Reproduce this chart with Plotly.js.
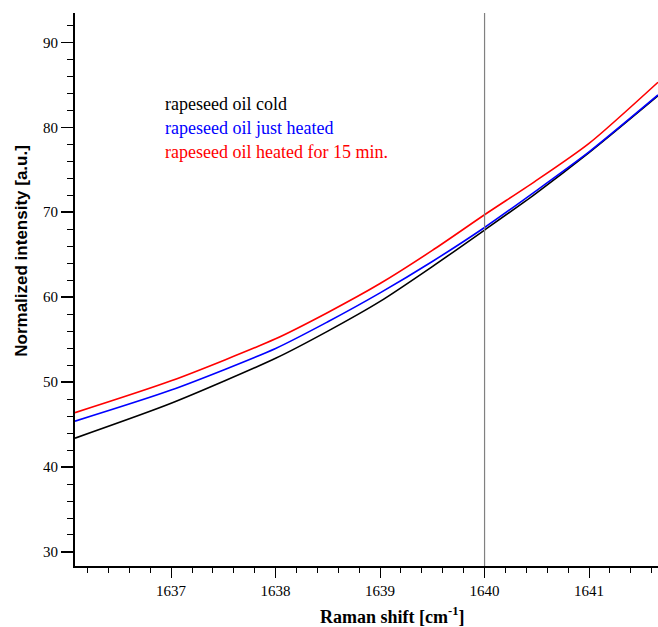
<!DOCTYPE html>
<html>
<head>
<meta charset="utf-8">
<script src="https://cdn.plot.ly/plotly-3.0.1.min.js"></script>
<style>html,body{margin:0;padding:0;background:#fff;}#chart{width:658px;height:627px;}</style>
</head>
<body>
<div id="chart"></div>
<script>
const ramanShift = [1636.08, 1637, 1638, 1638.5, 1639, 1639.5, 1640, 1640.48, 1641, 1641.66];
const coldIntensity = [43.4, 47.5, 52.8, 56.0, 59.5, 63.6, 67.9, 72.1, 77.0, 83.7];
const justHeatedIntensity = [45.4, 49.06, 53.96, 57.1, 60.5, 64.2, 68.2, 72.4, 77.1, 83.8];
const heated15Intensity = [46.4, 50.15, 55.1, 58.2, 61.6, 65.5, 69.7, 73.6, 78.1, 85.3];
const seriesNames = ["rapeseed oil cold", "rapeseed oil just heated", "rapeseed oil heated for 15 min."];
const seriesColors = ["#000000", "#0000ff", "#ff0000"];
const markerLine = 1640;
const xTitle = '<b>Raman shift [cm<sup>-1</sup>]</b>';
const yTitle = '<b>Normalized intensity [a.u.]</b>';

const seriesValues = [coldIntensity, justHeatedIntensity, heated15Intensity];
const traces = seriesValues.map((vals, i) => ({
  x: ramanShift, y: vals, type: 'scatter', mode: 'lines', name: seriesNames[i],
  line: {color: seriesColors[i], width: 1.6, shape: 'spline', smoothing: 0.7},
  showlegend: false, hoverinfo: 'skip'
}));

const serif = 'Liberation Serif, Times New Roman, serif';
const annotations = seriesNames.map((n, i) => ({
  xref: 'paper', yref: 'paper', x: 0.151, y: 0.835 - i * 0.043,
  xanchor: 'left', yanchor: 'middle', showarrow: false, text: n,
  font: {family: serif, size: 18, color: seriesColors[i]}
}));
annotations.push({
  xref: 'paper', yref: 'paper', x: 0.545, y: -0.089, xanchor: 'center', yanchor: 'middle',
  showarrow: false, text: xTitle, font: {family: serif, size: 18, color: '#000'}
});
annotations.push({
  xref: 'paper', yref: 'paper', x: -0.091, y: 0.57, xanchor: 'center', yanchor: 'middle',
  textangle: -90, showarrow: false, text: yTitle,
  font: {family: 'Liberation Sans, Arial, sans-serif', size: 17, color: '#000'}
});

const layout = {
  width: 658, height: 627,
  margin: {l: 75, r: 0, t: 13, b: 61},
  paper_bgcolor: '#fff', plot_bgcolor: '#fff',
  showlegend: false,
  xaxis: {
    range: [1636.08, 1641.66], dtick: 1, tick0: 1637,
    ticks: 'outside', ticklen: 10, tickwidth: 1, tickcolor: '#000',
    minor: {dtick: 0.2, ticks: 'outside', ticklen: 5, tickwidth: 1, tickcolor: '#000'},
    showline: true, linecolor: '#000', linewidth: 2, showgrid: false, zeroline: false,
    tickfont: {family: serif, size: 15, color: '#000'}
  },
  yaxis: {
    range: [28.35, 93.45], dtick: 10, tick0: 30,
    ticks: 'outside', ticklen: 12, tickwidth: 1.5, tickcolor: '#000',
    minor: {dtick: 2, ticks: 'outside', ticklen: 6, tickwidth: 1, tickcolor: '#000'},
    showline: true, linecolor: '#000', linewidth: 2, showgrid: false, zeroline: false,
    tickfont: {family: serif, size: 15, color: '#000'}
  },
  shapes: [{type: 'line', xref: 'x', yref: 'paper', x0: markerLine, x1: markerLine, y0: 0, y1: 1,
    line: {color: '#808080', width: 1.2}}],
  annotations: annotations
};

Plotly.newPlot('chart', traces, layout, {displayModeBar: false, staticPlot: true});
</script>
</body>
</html>
